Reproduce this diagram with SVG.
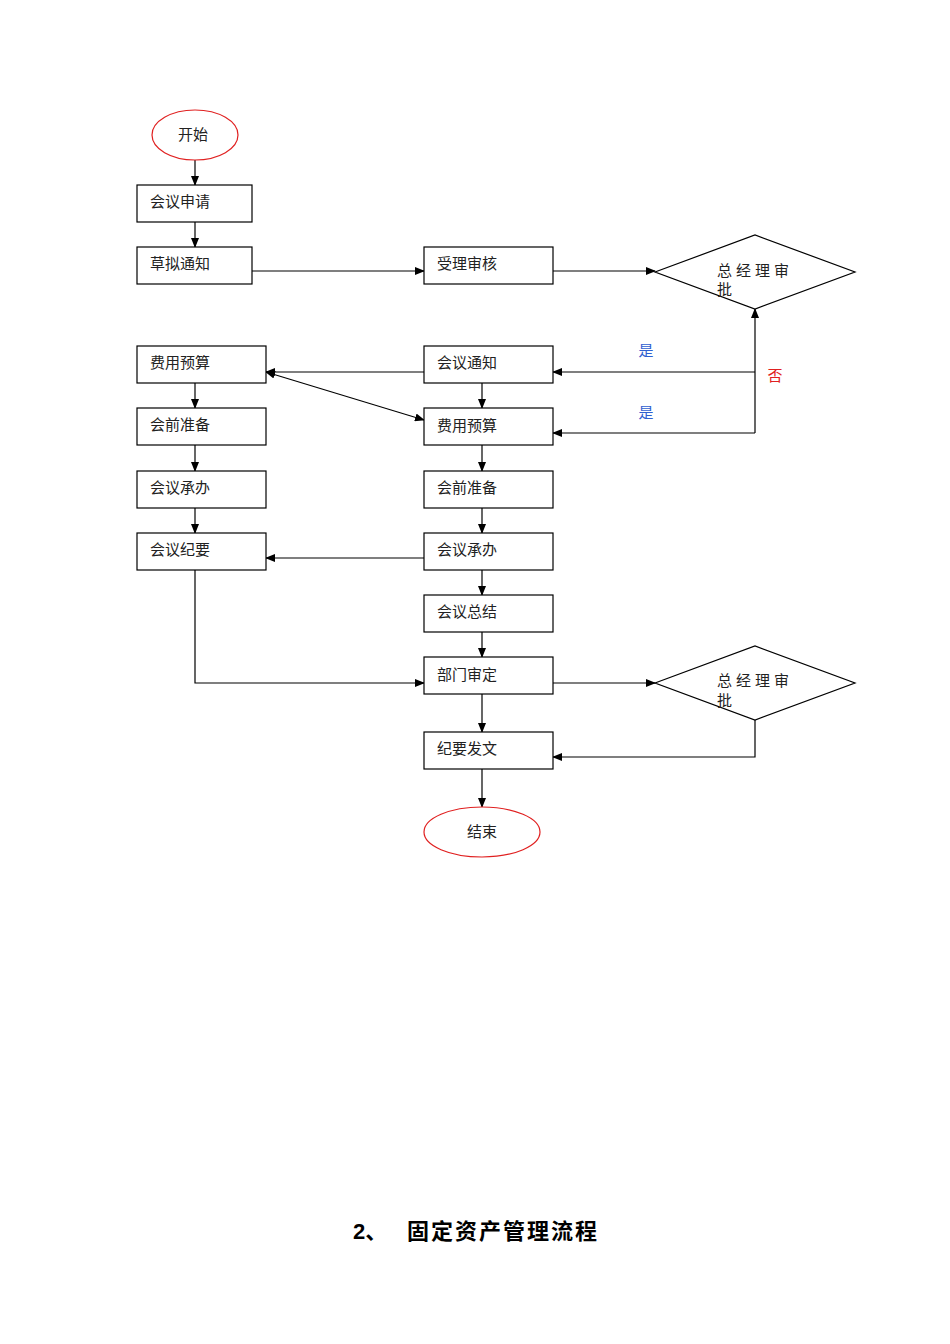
<svg xmlns="http://www.w3.org/2000/svg" width="950" height="1344" viewBox="0 0 950 1344">
<style>
.b{fill:#fff;stroke:#000;stroke-width:1.2}
.e{fill:#fff;stroke:#e02020;stroke-width:1.2}
.t{font-family:"Liberation Serif","Noto Sans CJK SC",serif;font-size:15px;fill:#222}
.c{fill:none;stroke:#000;stroke-width:1.2}
</style>
<defs><marker id="a" markerWidth="10" markerHeight="8" refX="9" refY="4" orient="auto-start-reverse" markerUnits="userSpaceOnUse"><path d="M0,0L10,4L0,8z" fill="#000"/></marker></defs>
<rect width="950" height="1344" fill="#fff"/>
<g id="connectors">
<path class="c" marker-end="url(#a)" d="M195,160V185"/>
<path class="c" marker-end="url(#a)" d="M195,222V247"/>
<path class="c" marker-end="url(#a)" d="M252,271H424"/>
<path class="c" marker-end="url(#a)" d="M553,271H655"/>
<path class="c" marker-end="url(#a)" d="M755,433V309"/>
<path class="c" marker-end="url(#a)" d="M755,372H553"/>
<path class="c" marker-end="url(#a)" d="M755,433H553"/>
<path class="c" marker-end="url(#a)" d="M424,372H266"/>
<path class="c" marker-start="url(#a)" marker-end="url(#a)" d="M266,372L424,420"/>
<path class="c" marker-end="url(#a)" d="M482,383V408"/>
<path class="c" marker-end="url(#a)" d="M195,383V408"/>
<path class="c" marker-end="url(#a)" d="M195,445V471"/>
<path class="c" marker-end="url(#a)" d="M195,508V533"/>
<path class="c" marker-end="url(#a)" d="M424,558H266"/>
<path class="c" marker-end="url(#a)" d="M482,445V471"/>
<path class="c" marker-end="url(#a)" d="M482,508V533"/>
<path class="c" marker-end="url(#a)" d="M482,570V595"/>
<path class="c" marker-end="url(#a)" d="M482,632V657"/>
<path class="c" marker-end="url(#a)" d="M482,694V732"/>
<path class="c" marker-end="url(#a)" d="M482,769V807"/>
<path class="c" marker-end="url(#a)" d="M195,570V683H424"/>
<path class="c" marker-end="url(#a)" d="M553,683H655"/>
<path class="c" marker-end="url(#a)" d="M755,720V757H553"/>
<text x="646" y="356" font-family="Liberation Serif,Noto Sans CJK SC,serif" font-size="15" fill="#3060d0" text-anchor="middle">是</text>
<text x="646" y="418" font-family="Liberation Serif,Noto Sans CJK SC,serif" font-size="15" fill="#3060d0" text-anchor="middle">是</text>
<text x="775" y="381" font-family="Liberation Serif,Noto Sans CJK SC,serif" font-size="15" fill="#e02020" text-anchor="middle">否</text>
</g>
<g id="start"><ellipse class="e" cx="195" cy="135" rx="43" ry="25"/><text class="t" x="193" y="140" text-anchor="middle">开始</text></g>
<g id="n1"><rect class="b" x="137" y="185" width="115" height="37"/><text class="t" x="150" y="207">会议申请</text></g>
<g id="n2"><rect class="b" x="137" y="247" width="115" height="37"/><text class="t" x="150" y="269">草拟通知</text></g>
<g id="n3"><rect class="b" x="424" y="247" width="129" height="37"/><text class="t" x="437" y="269">受理审核</text></g>
<g id="d1"><polygon class="b" points="655,272 755,235 855,272 755,309"/><text class="t" x="717" y="276" letter-spacing="4">总经理审</text><text class="t" x="717" y="295">批</text></g>
<g id="l1"><rect class="b" x="137" y="346" width="129" height="37"/><text class="t" x="150" y="368">费用预算</text></g>
<g id="l2"><rect class="b" x="137" y="408" width="129" height="37"/><text class="t" x="150" y="430">会前准备</text></g>
<g id="l3"><rect class="b" x="137" y="471" width="129" height="37"/><text class="t" x="150" y="493">会议承办</text></g>
<g id="l4"><rect class="b" x="137" y="533" width="129" height="37"/><text class="t" x="150" y="555">会议纪要</text></g>
<g id="m1"><rect class="b" x="424" y="346" width="129" height="37"/><text class="t" x="437" y="368">会议通知</text></g>
<g id="m2"><rect class="b" x="424" y="408" width="129" height="37"/><text class="t" x="437" y="431">费用预算</text></g>
<g id="m3"><rect class="b" x="424" y="471" width="129" height="37"/><text class="t" x="437" y="493">会前准备</text></g>
<g id="m4"><rect class="b" x="424" y="533" width="129" height="37"/><text class="t" x="437" y="555">会议承办</text></g>
<g id="m5"><rect class="b" x="424" y="595" width="129" height="37"/><text class="t" x="437" y="617">会议总结</text></g>
<g id="m6"><rect class="b" x="424" y="657" width="129" height="37"/><text class="t" x="437" y="680">部门审定</text></g>
<g id="d2"><polygon class="b" points="655,683 755,646 855,683 755,720"/><text class="t" x="717" y="686" letter-spacing="4">总经理审</text><text class="t" x="717" y="706">批</text></g>
<g id="m7"><rect class="b" x="424" y="732" width="129" height="37"/><text class="t" x="437" y="754">纪要发文</text></g>
<g id="end"><ellipse class="e" cx="482" cy="832" rx="58" ry="25"/><text class="t" x="482" y="837" text-anchor="middle">结束</text></g>
<text x="353" y="1239" font-family="Liberation Sans,Noto Sans CJK SC,sans-serif" font-size="22" font-weight="bold" fill="#000">2、</text>
<text x="407" y="1239" font-family="Liberation Sans,Noto Sans CJK SC,sans-serif" font-size="22" font-weight="bold" fill="#000" textLength="190">固定资产管理流程</text>
</svg>
